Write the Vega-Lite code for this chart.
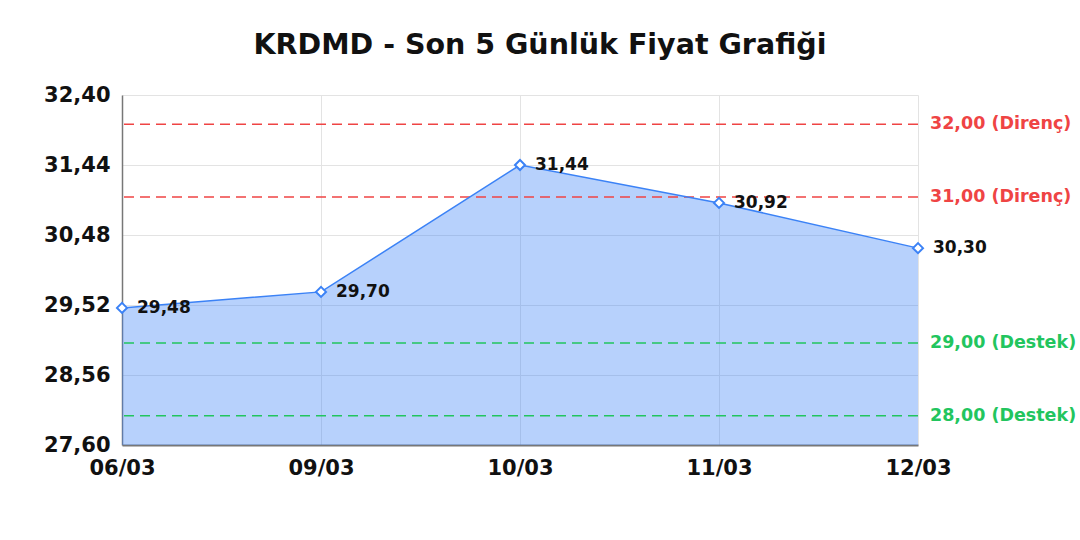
{
  "$schema": "https://vega.github.io/schema/vega-lite/v6.json",
  "description": "KRDMD son 5 gunluk fiyat",
  "autosize": "none",
  "padding": {"left": 122, "top": 95, "right": 162, "bottom": 95},
  "width": 796,
  "height": 350,
  "title": {
    "text": "KRDMD - Son 5 Günlük Fiyat Grafiği",
    "fontSize": 28.5,
    "fontWeight": "bold",
    "color": "#111111",
    "offset": 25,
    "dx": 20
  },
  "datasets": {
    "prices": [
      {"date": "06/03", "price": 29.48},
      {"date": "09/03", "price": 29.70},
      {"date": "10/03", "price": 31.44},
      {"date": "11/03", "price": 30.92},
      {"date": "12/03", "price": 30.30}
    ],
    "levels": [
      {"level": 32, "kind": "Direnç", "label": "32,00 (Direnç)", "date": "12/03"},
      {"level": 31, "kind": "Direnç", "label": "31,00 (Direnç)", "date": "12/03"},
      {"level": 29, "kind": "Destek", "label": "29,00 (Destek)", "date": "12/03"},
      {"level": 28, "kind": "Destek", "label": "28,00 (Destek)", "date": "12/03"}
    ]
  },
  "layer": [
    {
      "data": {"name": "prices"},
      "mark": {"type": "area", "color": "#3b82f6", "opacity": 0.37},
      "encoding": {
        "x": {
          "field": "date", "type": "ordinal", "sort": null,
          "scale": {"type": "point", "padding": 0},
          "axis": {"title": null, "labelAngle": 0, "labelFontSize": 21, "labelFontWeight": "bold", "labelColor": "#111111", "labelPadding": 12, "ticks": false, "domainColor": "#777777", "domainWidth": 2, "grid": true, "gridColor": "#e3e3e3"}
        },
        "y": {
          "field": "price", "type": "quantitative",
          "scale": {"domain": [27.6, 32.4], "zero": false, "nice": false},
          "axis": {"title": null, "values": [27.6, 28.56, 29.52, 30.48, 31.44, 32.4], "format": ".2f", "labelFontSize": 21, "labelFontWeight": "bold", "labelColor": "#111111", "labelPadding": 12, "ticks": false, "domainColor": "#777777", "domainWidth": 1.5, "gridColor": "#e3e3e3"}
        },
        "y2": {"datum": 27.6}
      }
    },
    {
      "data": {"name": "levels"},
      "mark": {"type": "rule", "strokeDash": [10, 6], "strokeWidth": 1.5},
      "encoding": {
        "y": {"field": "level", "type": "quantitative"},
        "color": {"field": "kind", "type": "nominal", "scale": {"domain": ["Direnç", "Destek"], "range": ["#ef4444", "#22c55e"]}, "legend": null}
      }
    },
    {
      "data": {"name": "levels"},
      "mark": {"type": "text", "align": "left", "baseline": "middle", "dx": 12, "fontSize": 17.5, "fontWeight": "bold"},
      "encoding": {
        "x": {"field": "date", "type": "ordinal", "sort": null},
        "y": {"field": "level", "type": "quantitative"},
        "text": {"field": "label"},
        "color": {"field": "kind", "type": "nominal", "legend": null}
      }
    },
    {
      "data": {"name": "prices"},
      "mark": {"type": "line", "color": "#3b82f6", "strokeWidth": 1.5},
      "encoding": {
        "x": {"field": "date", "type": "ordinal", "sort": null},
        "y": {"field": "price", "type": "quantitative"}
      }
    },
    {
      "data": {"name": "prices"},
      "mark": {"type": "point", "shape": "diamond", "filled": true, "fill": "white", "stroke": "#3b82f6", "strokeWidth": 2, "size": 100, "opacity": 1},
      "encoding": {
        "x": {"field": "date", "type": "ordinal", "sort": null},
        "y": {"field": "price", "type": "quantitative"}
      }
    },
    {
      "data": {"name": "prices"},
      "mark": {"type": "text", "align": "left", "baseline": "middle", "dx": 15, "fontSize": 17, "fontWeight": "bold", "color": "#111111"},
      "encoding": {
        "x": {"field": "date", "type": "ordinal", "sort": null},
        "y": {"field": "price", "type": "quantitative"},
        "text": {"field": "price", "type": "quantitative", "format": ".2f"}
      }
    }
  ],
  "config": {
    "font": "DejaVu Sans",
    "view": {"stroke": null},
    "locale": {"number": {"decimal": ",", "thousands": ".", "grouping": [3], "currency": ["", " ₺"]}}
  }
}
